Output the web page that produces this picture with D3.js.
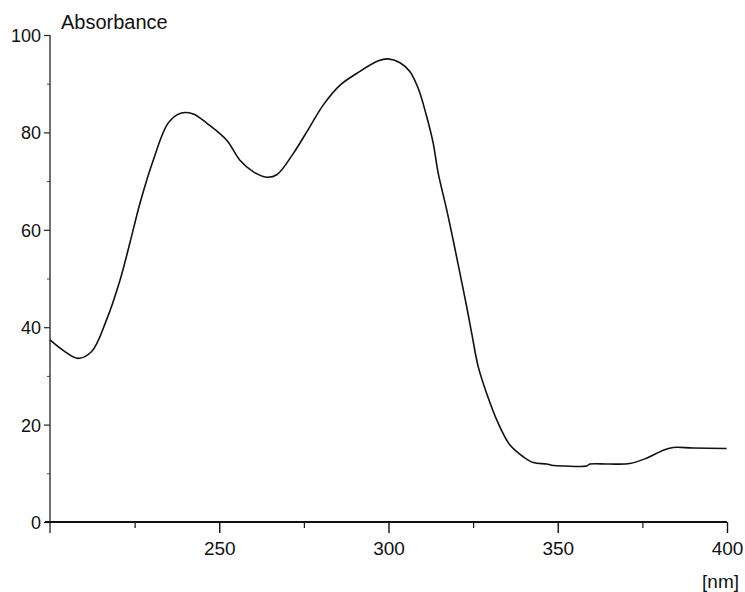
<!DOCTYPE html>
<html>
<head>
<meta charset="utf-8">
<script src="https://cdn.jsdelivr.net/npm/d3@7"></script>
<style>
  html, body { margin: 0; padding: 0; background: #fff; }
  svg { display: block; }
  text { font-family: Arial, "Liberation Sans", sans-serif; fill: #111; }
</style>
</head>
<body>
<svg id="chart" width="745" height="592"></svg>
<script>
const wavelength = [200, 204, 208.3, 212.3, 216.7, 220.7, 223.6, 226.6, 230.5, 234.9, 238.4, 242.3, 246.3, 252.2, 256.1, 260.1, 264.0, 267.0, 271.9, 276.8, 280.7, 285.7, 290.6, 297.0, 299.9, 303.4, 306.3, 308.8, 311.3, 313.2, 314.7, 317.2, 319.1, 321.1, 323.1, 324.6, 326.5, 329.0, 332.4, 335.9, 339.8, 342.8, 346.7, 348.7, 352, 358.5, 359.5, 365, 371.3, 376.2, 380.7, 384.1, 390, 399.9];
const absorbance = [37.4, 35.2, 33.6, 35.0, 41.5, 49.7, 57.3, 65.5, 74.3, 81.9, 83.9, 83.8, 81.9, 78.4, 74.3, 71.9, 70.8, 71.3, 75.7, 81.2, 85.6, 89.7, 92.1, 94.7, 95.1, 94.3, 92.5, 89.0, 83.2, 77.8, 71.6, 64.1, 57.9, 51.1, 44.2, 38.7, 31.9, 26.4, 20.3, 15.8, 13.4, 12.2, 11.9, 11.6, 11.5, 11.5, 11.9, 11.9, 12.0, 13.1, 14.6, 15.3, 15.2, 15.1];

const xMajorTicks = [250, 300, 350, 400];
const xMinorTicks = [225, 275, 325, 375];
const yMajorTicks = [0, 20, 40, 60, 80, 100];
const yMinorTicks = [10, 30, 50, 70, 90];
const yTitle = "Absorbance";
const xTitle = "[nm]";

const svg = d3.select("#chart");
const x = d3.scaleLinear().domain([200, 400]).range([50, 727]);
const y = d3.scaleLinear().domain([0, 100]).range([522, 35]);

// Y axis
const yAxis = svg.append("g").attr("transform", "translate(50,0)");
yAxis.call(d3.axisLeft(y).tickValues(yMajorTicks).tickSize(6).tickPadding(3).tickFormat(d3.format("d")));
yAxis.select(".domain").remove();
yAxis.selectAll(".tick line").attr("stroke", "#222").attr("stroke-width", 1.2);
yAxis.selectAll(".tick text").style("font-size", "18px").attr("dy", "0.36em").attr("fill", "#111");
const yMinor = svg.append("g").attr("transform", "translate(50,0)");
yMinor.call(d3.axisLeft(y).tickValues(yMinorTicks).tickSize(3).tickFormat(""));
yMinor.select(".domain").remove();
yMinor.selectAll(".tick line").attr("stroke", "#444").attr("stroke-width", 1);
svg.append("line")
  .attr("x1", x(200)).attr("x2", x(200))
  .attr("y1", y(100)).attr("y2", y(0) + 11)
  .attr("stroke", "#333").attr("stroke-width", 1.4);

// X axis
const xAxis = svg.append("g").attr("transform", `translate(0,${y(0)})`);
xAxis.call(d3.axisBottom(x).tickValues(xMajorTicks).tickSize(11).tickPadding(9).tickFormat(d3.format("d")));
xAxis.select(".domain").remove();
xAxis.selectAll(".tick line").attr("stroke", "#111").attr("stroke-width", 1.4);
xAxis.selectAll(".tick text").style("font-size", "19px").attr("fill", "#111");
const xMinor = svg.append("g").attr("transform", `translate(0,${y(0)})`);
xMinor.call(d3.axisBottom(x).tickValues(xMinorTicks).tickSize(6).tickFormat(""));
xMinor.select(".domain").remove();
xMinor.selectAll(".tick line").attr("stroke", "#111").attr("stroke-width", 1.2);
svg.append("line")
  .attr("x1", x(200) - 5).attr("x2", x(400))
  .attr("y1", y(0)).attr("y2", y(0))
  .attr("stroke", "#111").attr("stroke-width", 2);

// Titles
svg.append("text").attr("x", 61).attr("y", 29).style("font-size", "20px").text(yTitle);
svg.append("text").attr("x", 739).attr("y", 588).attr("text-anchor", "end").style("font-size", "19px").text(xTitle);

// Curve
const data = wavelength.map((w, i) => ({ w, a: absorbance[i] }));
svg.append("path")
  .datum(data)
  .attr("fill", "none")
  .attr("stroke", "#111")
  .attr("stroke-width", 1.6)
  .attr("stroke-linejoin", "round")
  .attr("d", d3.line().x(d => x(d.w)).y(d => y(d.a)).curve(d3.curveCatmullRom.alpha(0.5)));
</script>
</body>
</html>
